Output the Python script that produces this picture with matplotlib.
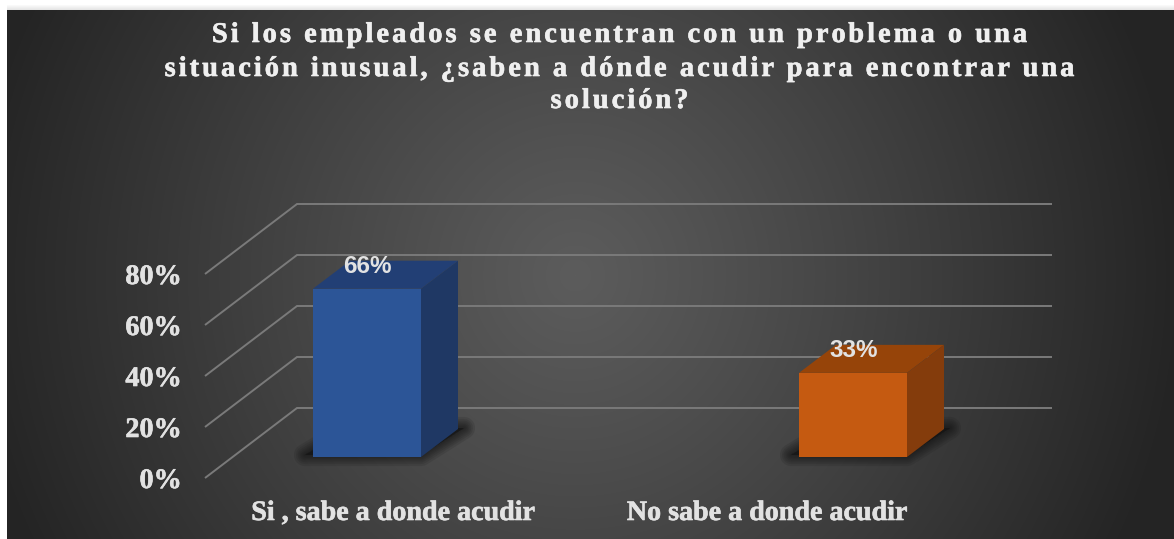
#!/usr/bin/env python3
import numpy as np
import matplotlib
matplotlib.use("Agg")
import matplotlib.pyplot as plt
import matplotlib.patheffects as pe
from matplotlib.text import Text
from matplotlib.transforms import IdentityTransform

categories = ["Si , sabe a donde acudir", "No sabe a donde acudir"]
values = [66, 33]
value_labels = ["66%", "33%"]
ticks = [0, 20, 40, 60, 80]
tick_labels = ["0%", "20%", "40%", "60%", "80%"]
title_lines = [
    "Si los empleados se encuentran con un problema o una",
    "situación inusual, ¿saben a dónde acudir para encontrar una",
    "solución?",
]
front_colors = ["#2c5597", "#c55a11"]
top_colors = ["#223f75", "#964409"]
side_colors = ["#1f3864", "#843c0c"]

WIDTH, HEIGHT = 1174, 539
PX_PER_PCT = 2.55
PX_PER_CAT = 486.0
TEXT_COLOR = "#e2e2e2"
GRID_COLOR = "#7a7a7a"


def heavier(color, width=0.45):
    # thickens the serif glyphs a touch
    return [pe.withStroke(linewidth=width, foreground=color)]


class SpacedText(Text):
    """Single centred text artist drawn with extra room between its letters."""

    def __init__(self, x, y, text, tracking=0.0, **kwargs):
        super().__init__(x, y, text, ha="center", va="baseline", **kwargs)
        self.tracking = tracking

    def _advance(self, renderer, s):
        fp = self.get_fontproperties()
        full = renderer.get_text_width_height_descent("|" + s + "|", fp, False)[0]
        bars = renderer.get_text_width_height_descent("||", fp, False)[0]
        return full - bars

    def draw(self, renderer):
        line = self.get_text()
        total = self._advance(renderer, line) + self.tracking * (len(line) - 1)
        x, y = self.get_transform().transform(self.get_position())
        left = x - total / 2
        for i, ch in enumerate(line):
            if ch == " ":
                continue
            offset = self._advance(renderer, line[:i]) + self.tracking * i
            glyph = Text(left + offset, y, ch, transform=IdentityTransform(),
                         fontproperties=self.get_fontproperties(),
                         color=self.get_color(), ha="left", va="baseline",
                         path_effects=self.get_path_effects())
            glyph.set_figure(self.get_figure())
            glyph.draw(renderer)


def panel_background():
    yy, xx = np.mgrid[0:HEIGHT, 0:WIDTH]
    r = np.sqrt(((xx - 575) / 610.0) ** 2 + ((yy - 275) / 620.0) ** 2)
    shade = np.clip(92 - 56 * np.clip(r, 0, 1) ** 1.1, 0, 255)
    img = np.repeat(shade[:, :, None], 3, axis=2) / 255.0
    img[:10, :] = 1.0
    img[:, :7] = 1.0
    # faint shadow just above the panel
    for row, level in zip(range(5, 10), [0.98, 0.96, 0.94, 0.92, 0.90]):
        img[row, 7:] = level
    return img


fig = plt.figure(figsize=(WIDTH / 100, HEIGHT / 100), dpi=100)
ax = fig.add_axes([0, 0, 1, 1])
ax.set_xlim(-367 / PX_PER_CAT, (WIDTH - 367) / PX_PER_CAT)
ax.set_ylim(-(HEIGHT - 478) / PX_PER_PCT, 478 / PX_PER_PCT)
ax.axis("off")
ax.imshow(panel_background(), extent=[*ax.get_xlim(), *ax.get_ylim()],
          aspect="auto", zorder=0, interpolation="nearest")


def px_x(px):
    return px / PX_PER_CAT


def px_y(px):
    return px / PX_PER_PCT


# gridlines: wall diagonal and then the back wall
grid_front = px_x(205 - 367)
grid_back = px_x(297 - 367)
grid_end = px_x(1052 - 367)
for t in ticks:
    ax.plot([grid_front, grid_back, grid_end],
            [t, t + px_y(70), t + px_y(70)],
            color=GRID_COLOR, lw=1.4, zorder=1, solid_joinstyle="miter", solid_capstyle="butt")

bar_w = px_x(108)
floor = px_y(21)
dx, dy = px_x(37), px_y(28)

for i, v in enumerate(values):
    l, r = i - bar_w / 2, i + bar_w / 2
    b, t = floor, floor + v

    # soft floor shadow built from widening translucent outlines
    sx = [l - px_x(8), r, r + dx + px_x(6), l + dx]
    sy = [b + px_y(2), b + px_y(2), b + dy + px_y(1), b + dy + px_y(1)]
    for lw in [16, 13, 10.5, 8, 6, 4, 2]:
        ax.fill(sx, sy, facecolor="#141414", edgecolor="#141414", lw=lw,
                alpha=0.13, joinstyle="round", zorder=2)

    ax.fill([l, r, r, l], [b, b, t, t], color=front_colors[i], lw=0, zorder=5)
    ax.fill([l, r, r + dx, l + dx], [t, t, t + dy, t + dy], color=top_colors[i], lw=0, zorder=4)
    ax.fill([r, r + dx, r + dx, r], [b, b + dy, t + dy, t], color=side_colors[i], lw=0, zorder=4)

    ax.text(i + px_x(0.5), t + px_y(22.5), value_labels[i], ha="center", va="center",
            family="Liberation Sans", weight="bold", fontsize=17.5, color=TEXT_COLOR, zorder=6)

for t, lab in zip(ticks, tick_labels):
    ax.text(px_x(182 - 367), t - px_y(10), lab, ha="right", va="baseline",
            family="Liberation Serif", weight="bold", fontsize=20.3, color=TEXT_COLOR, zorder=6,
            path_effects=heavier(TEXT_COLOR))

for cx, lab in zip([393, 767], categories):
    ax.text(px_x(cx - 367), px_y(478 - 520), lab, ha="center", va="baseline",
            family="Liberation Serif", weight="bold", fontsize=20.2, color=TEXT_COLOR, zorder=6,
            path_effects=heavier(TEXT_COLOR))

for baseline, line in zip([42, 76, 108], title_lines):
    fig.add_artist(SpacedText(619.5 / WIDTH, 1 - baseline / HEIGHT, line, tracking=3.0,
                              transform=fig.transFigure, family="Liberation Serif",
                              weight="bold", fontsize=20.5, color="#efefef",
                              path_effects=heavier("#efefef")))

fig.savefig("out.png", dpi=100)
